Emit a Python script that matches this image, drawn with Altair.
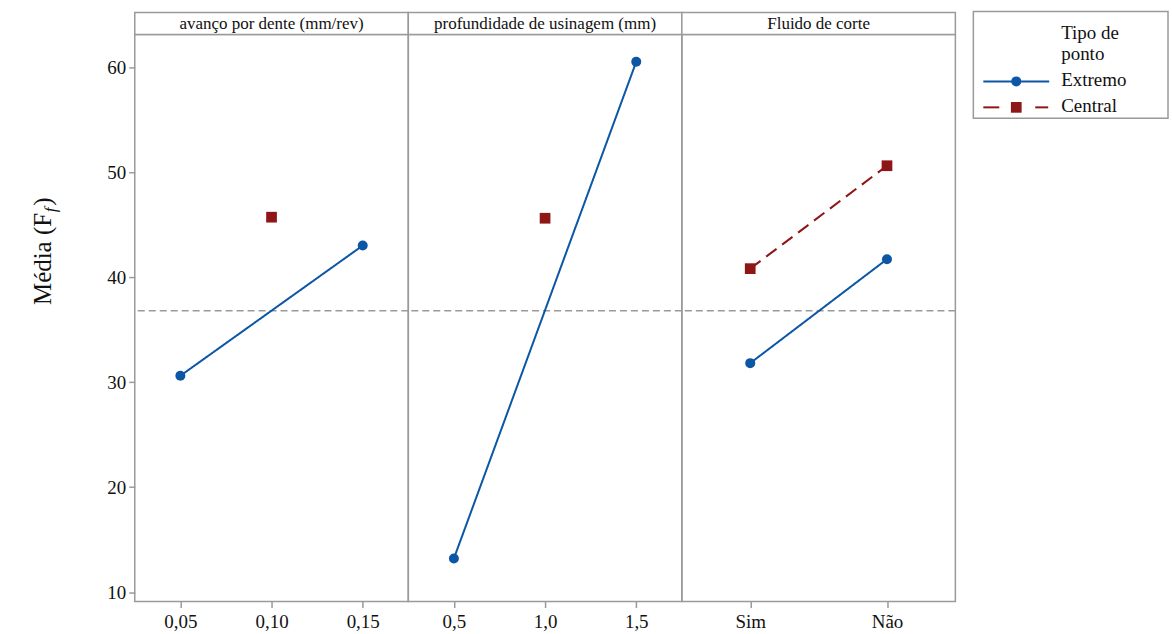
import altair as alt
import pandas as pd

# ---- values ----
factor_titles = ["avanço por dente (mm/rev)", "profundidade de usinagem (mm)", "Fluido de corte"]
point_types = ["Extremo", "Central"]

feed_levels = [0.05, 0.10, 0.15]
feed_types = ["Extremo", "Central", "Extremo"]
feed_means = [30.6, 45.7, 43.0]

depth_levels = [0.5, 1.0, 1.5]
depth_types = ["Extremo", "Central", "Extremo"]
depth_means = [13.2, 45.6, 60.5]

fluid_order = ["Sim", "Não"]
fluid_levels = ["Sim", "Não", "Sim", "Não"]
fluid_types = ["Extremo", "Extremo", "Central", "Central"]
fluid_means = [31.8, 41.7, 40.8, 50.6]

overall_mean = 36.8
y_ticks = [10, 20, 30, 40, 50, 60]
y_title_parts = ["Média (F", "f", ")"]
legend_title = ["Tipo de", "ponto"]

# ---- style ----
BLUE = "#0b56a5"
RED = "#8e1616"
FRAME = "#9a9a9a"
FONT = "Liberation Serif"
W, H = 274, 568
HEAD = 22

y_scale = alt.Scale(domain=[9.1, 63.1], nice=False, zero=False)
color_enc = alt.Color("tipo:N", scale=alt.Scale(domain=point_types, range=[BLUE, RED]), legend=None)
dash_enc = alt.StrokeDash("tipo:N", scale=alt.Scale(domain=point_types, range=[[1, 0], [13, 7]]), legend=None)
shape_enc = alt.Shape("tipo:N", scale=alt.Scale(domain=point_types, range=["circle", "square"]), legend=None)
size_enc = alt.Size("tipo:N", scale=alt.Scale(domain=point_types, range=[100, 115]), legend=None)

x_axis_style = dict(grid=False, domain=False, tickSize=6, tickColor=FRAME, tickWidth=1.5,
                    labelFont=FONT, labelFontSize=19, labelColor="#111", labelPadding=5, title=None)


def one_row(**kw):
    return pd.DataFrame({k: [v] for k, v in kw.items()})


def panel(df, x_enc, title, show_y, extra=()):
    if show_y:
        y_axis = alt.Axis(values=y_ticks, grid=False, domain=False, tickSize=6, tickColor=FRAME,
                          tickWidth=1.5, labelFont=FONT, labelFontSize=19, labelColor="#111",
                          labelPadding=3, title=None)
    else:
        y_axis = None
    y_enc = alt.Y("media:Q", scale=y_scale, axis=y_axis)
    base = alt.Chart(df)
    mean_rule = alt.Chart(one_row(media=overall_mean)).mark_rule(
        color=FRAME, strokeWidth=1.5, strokeDash=[7, 4]
    ).encode(y=alt.Y("media:Q", scale=y_scale, axis=y_axis))
    lines = base.mark_line(strokeWidth=2).encode(
        x=x_enc, y=y_enc, color=color_enc, strokeDash=dash_enc, detail="tipo:N")
    points = base.mark_point(filled=True, opacity=1).encode(
        x=x_enc, y=y_enc, color=color_enc, shape=shape_enc, size=size_enc)
    header_box = alt.Chart(one_row(t=title)).mark_rect(
        fill="white", stroke=FRAME, strokeWidth=1.5
    ).encode(x=alt.value(0), x2=alt.value(W), y=alt.value(-HEAD), y2=alt.value(0))
    header_text = alt.Chart(one_row(t=title)).mark_text(
        font=FONT, fontSize=17, color="#111", baseline="middle", align="center"
    ).encode(x=alt.value(W / 2), y=alt.value(-HEAD / 2 + 1), text="t:N")
    return alt.layer(mean_rule, lines, points, header_box, header_text, *extra).properties(
        width=W, height=H)


# ---- panel 1: feed per tooth ----
feed_df = pd.DataFrame({"x": feed_levels, "tipo": feed_types, "media": feed_means})
feed_x = alt.X("x:Q", scale=alt.Scale(domain=[0.025, 0.175], nice=False, zero=False),
               axis=alt.Axis(values=feed_levels,
                             labelExpr="replace(format(datum.value, '.2f'), '.', ',')",
                             **x_axis_style))

# rotated y title with subscript f
yt_main = alt.Chart(one_row(t=y_title_parts[0])).mark_text(
    font=FONT, fontSize=25, color="#111", angle=270, align="left", baseline="alphabetic"
).encode(x=alt.value(-84), y=alt.value(271), text="t:N")
yt_sub = alt.Chart(one_row(t=y_title_parts[1])).mark_text(
    font=FONT, fontSize=17, fontStyle="italic", color="#111", angle=270, align="left",
    baseline="alphabetic"
).encode(x=alt.value(-79), y=alt.value(178), text="t:N")
yt_close = alt.Chart(one_row(t=y_title_parts[2])).mark_text(
    font=FONT, fontSize=25, color="#111", angle=270, align="left", baseline="alphabetic"
).encode(x=alt.value(-84), y=alt.value(171.5), text="t:N")

p1 = panel(feed_df, feed_x, factor_titles[0], True, extra=(yt_main, yt_sub, yt_close))

# ---- panel 2: depth of cut ----
depth_df = pd.DataFrame({"x": depth_levels, "tipo": depth_types, "media": depth_means})
depth_x = alt.X("x:Q", scale=alt.Scale(domain=[0.25, 1.75], nice=False, zero=False),
                axis=alt.Axis(values=depth_levels,
                              labelExpr="replace(format(datum.value, '.1f'), '.', ',')",
                              **x_axis_style))
p2 = panel(depth_df, depth_x, factor_titles[1], False)

# ---- panel 3: cutting fluid, with the legend beside it ----
fluid_df = pd.DataFrame({"x": fluid_levels, "tipo": fluid_types, "media": fluid_means})
fluid_x = alt.X("x:N", scale=alt.Scale(type="point", domain=fluid_order, padding=0.5),
                axis=alt.Axis(labelAngle=0, **x_axis_style))

LX0, LX1 = 292, 487          # legend frame, relative to panel origin
legend_layers = [
    alt.Chart(one_row(t="box")).mark_rect(fill="white", stroke=FRAME, strokeWidth=1.5).encode(
        x=alt.value(LX0), x2=alt.value(LX1), y=alt.value(-23), y2=alt.value(84)),
]
for i, line in enumerate(legend_title):
    legend_layers.append(
        alt.Chart(one_row(t=line)).mark_text(
            font=FONT, fontSize=19, color="#111", align="left", baseline="alphabetic"
        ).encode(x=alt.value(380), y=alt.value(5 + 21 * i), text="t:N"))

entry_y = {"Extremo": 47, "Central": 73}
for tipo, col in zip(point_types, [BLUE, RED]):
    yy = entry_y[tipo]
    if tipo == "Extremo":
        segs = [(302, 368)]
        sym, sz = "circle", 100
    else:
        segs = [(302, 318), (354, 367)]
        sym, sz = "square", 115
    for a, b in segs:
        legend_layers.append(
            alt.Chart(one_row(t=tipo)).mark_rule(color=col, strokeWidth=2).encode(
                x=alt.value(a), x2=alt.value(b), y=alt.value(yy)))
    legend_layers.append(
        alt.Chart(one_row(t=tipo)).mark_point(
            shape=sym, filled=True, opacity=1, color=col, size=sz
        ).encode(x=alt.value(335), y=alt.value(yy)))
    legend_layers.append(
        alt.Chart(one_row(t=tipo)).mark_text(
            font=FONT, fontSize=19, color="#111", align="left", baseline="alphabetic"
        ).encode(x=alt.value(380), y=alt.value(yy + 5), text="t:N"))

p3 = panel(fluid_df, fluid_x, factor_titles[2], False, extra=legend_layers)

chart = alt.hconcat(p1, p2, p3, spacing=0, bounds="flush").properties(
    padding={"left": 30, "top": 9, "right": 2, "bottom": 0},
    background="white",
).configure_view(stroke=FRAME, strokeWidth=1.5).configure_concat(spacing=0)

chart.save("out.html", embed_options={"renderer": "svg", "actions": False})
